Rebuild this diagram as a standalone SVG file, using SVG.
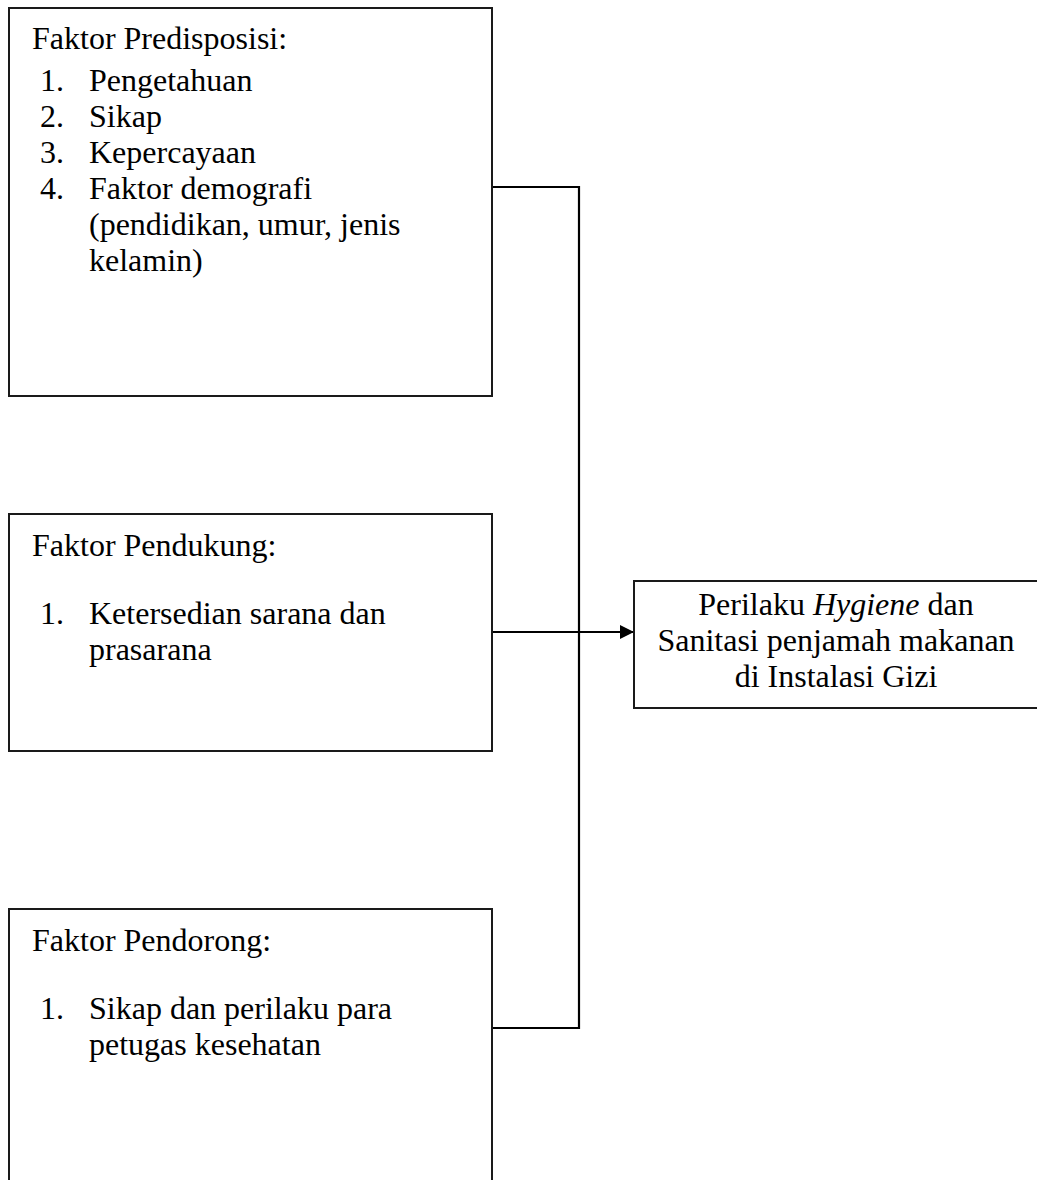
<svg xmlns="http://www.w3.org/2000/svg" width="1037" height="1180" viewBox="0 0 1037 1180">
<style>
.box{fill:#fff;stroke:#1a1a1a;stroke-width:2}
.t{font-family:"Liberation Serif","Times New Roman",serif;font-size:32px;fill:#000}
.c{text-anchor:middle}
.ln{fill:none;stroke:#000;stroke-width:2.2}
</style>
<defs>
<marker id="arr" viewBox="0 0 14 14" refX="14" refY="7" markerWidth="14" markerHeight="14" markerUnits="userSpaceOnUse" orient="auto">
<path d="M0,0 L14,7 L0,14 Z" fill="#000"/>
</marker>
</defs>
<rect width="1037" height="1180" fill="#fff"/>
<g id="connectors">
<path class="ln" d="M492,187 H579 V1028 H492"/>
<path class="ln" d="M492,632 H634" marker-end="url(#arr)"/>
</g>
<g id="predisposisi">
<rect class="box" x="9" y="8" width="483" height="388"/>
<text class="t" x="32" y="49">Faktor Predisposisi:</text>
<text class="t" x="40" y="91">1.</text><text class="t" x="89" y="91">Pengetahuan</text>
<text class="t" x="40" y="127">2.</text><text class="t" x="89" y="127">Sikap</text>
<text class="t" x="40" y="163">3.</text><text class="t" x="89" y="163">Kepercayaan</text>
<text class="t" x="40" y="199">4.</text><text class="t" x="89" y="199">Faktor demografi</text>
<text class="t" x="89" y="235">(pendidikan, umur, jenis</text>
<text class="t" x="89" y="271">kelamin)</text>
</g>
<g id="pendukung">
<rect class="box" x="9" y="514" width="483" height="237"/>
<text class="t" x="32" y="556">Faktor Pendukung:</text>
<text class="t" x="40" y="624">1.</text><text class="t" x="89" y="624">Ketersedian sarana dan</text>
<text class="t" x="89" y="660">prasarana</text>
</g>
<g id="pendorong">
<rect class="box" x="9" y="909" width="483" height="290"/>
<text class="t" x="32" y="951">Faktor Pendorong:</text>
<text class="t" x="40" y="1019">1.</text><text class="t" x="89" y="1019">Sikap dan perilaku para</text>
<text class="t" x="89" y="1055">petugas kesehatan</text>
</g>
<g id="perilaku">
<rect class="box" x="634" y="581" width="410" height="127"/>
<text class="t c" x="836" y="615">Perilaku <tspan font-style="italic">Hygiene</tspan> dan</text>
<text class="t c" x="836" y="651">Sanitasi penjamah makanan</text>
<text class="t c" x="836" y="687">di Instalasi Gizi</text>
</g>
</svg>
